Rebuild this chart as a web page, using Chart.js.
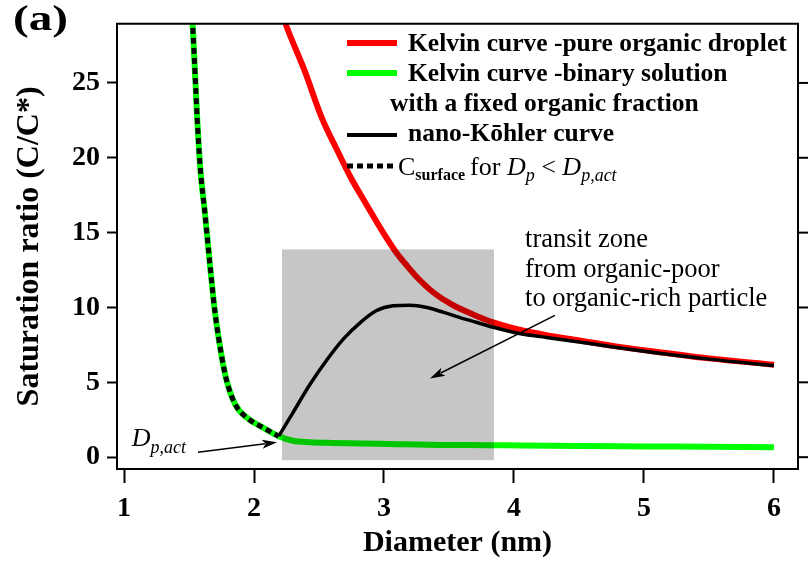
<!DOCTYPE html>
<html>
<head>
<meta charset="utf-8">
<script src="https://cdn.jsdelivr.net/npm/chart.js@4.4.1/dist/chart.umd.min.js"></script>
<style>
  html, body { margin: 0; padding: 0; background: #fff; }
  #wrap { width: 808px; height: 563px; }
</style>
</head>
<body>
<div id="wrap"><canvas id="kohlerChart" width="808" height="563"></canvas></div>
<script>
const xTicks = [1, 2, 3, 4, 5, 6];
const yTicks = [0, 5, 10, 15, 20, 25];

// Kelvin curve, pure organic droplet
const dPure = [2.20, 2.26, 2.39, 2.52, 2.64, 2.74, 2.87, 2.99, 3.10, 3.18, 3.25, 3.38, 3.53, 3.68, 3.84, 4.00, 4.25, 4.50, 4.75, 5.00, 5.50, 6.00];
const sPure = [30.0, 28.55, 25.8, 22.7, 20.5, 18.75, 16.8, 15.05, 13.6, 12.75, 12.05, 11.0, 10.15, 9.55, 9.0, 8.6, 8.15, 7.8, 7.45, 7.15, 6.6, 6.18];

// Kelvin curve, binary solution with fixed organic fraction
const dBinary = [1.52, 1.531, 1.562, 1.585, 1.623, 1.66, 1.70, 1.754, 1.79, 1.854, 1.946, 2.07, 2.19, 2.30, 2.43, 2.60, 2.82, 3.10, 3.43, 3.80, 4.05, 4.50, 5.00, 5.50, 6.00];
const sBinary = [30.0, 28.4, 22.8, 19.5, 16.25, 12.96, 9.67, 6.6, 5.1, 3.55, 2.63, 1.97, 1.40, 1.10, 1.00, 0.95, 0.92, 0.87, 0.82, 0.80, 0.78, 0.75, 0.72, 0.69, 0.66];

// nano-Koehler curve, from D_p,act upward
const dKohler = [2.19, 2.30, 2.43, 2.56, 2.69, 2.82, 2.94, 3.07, 3.20, 3.33, 3.46, 3.58, 3.71, 3.84, 4.05, 4.25, 4.50, 4.75, 5.00, 5.50, 6.00];
const sKohler = [1.40, 2.98, 4.85, 6.49, 7.92, 9.01, 9.78, 10.11, 10.15, 10.0, 9.67, 9.34, 9.01, 8.68, 8.24, 8.0, 7.7, 7.38, 7.08, 6.55, 6.12];

// surface concentration below activation follows the binary curve
const nSurface = 13;
const dSurface = dBinary.slice(0, nSurface);
const sSurface = sBinary.slice(0, nSurface);

// transit zone box and arrows (data units)
const zoneX = [2.215, 3.846];
const zoneY = [-0.2, 13.88];
const actArrow = [[1.569, 0.33], [2.177, 0.99]];
const zoneArrow = [[4.315, 9.47], [3.354, 5.26]];

const SERIF = "'Liberation Serif', 'DejaVu Serif', serif";

function toPoints(xs, ys) {
  return xs.map((v, i) => ({ x: v, y: ys[i] }));
}

function drawArrow(ctx, x0, y0, x1, y1) {
  const ang = Math.atan2(y1 - y0, x1 - x0);
  const len = 15, half = 4.5;
  ctx.beginPath();
  ctx.moveTo(x0, y0);
  ctx.lineTo(x1 - Math.cos(ang) * len * 0.8, y1 - Math.sin(ang) * len * 0.8);
  ctx.stroke();
  ctx.beginPath();
  ctx.moveTo(x1, y1);
  ctx.lineTo(x1 - Math.cos(ang) * len - Math.sin(ang) * half, y1 - Math.sin(ang) * len + Math.cos(ang) * half);
  ctx.lineTo(x1 - Math.cos(ang) * len * 0.75, y1 - Math.sin(ang) * len * 0.75);
  ctx.lineTo(x1 - Math.cos(ang) * len + Math.sin(ang) * half, y1 - Math.sin(ang) * len - Math.cos(ang) * half);
  ctx.closePath();
  ctx.fill();
}

// draws a run of text pieces one after another
function drawRuns(ctx, x, y, runs) {
  ctx.textBaseline = 'alphabetic';
  ctx.textAlign = 'left';
  runs.forEach(r => {
    ctx.font = r.font;
    ctx.fillText(r.text, x, y + (r.dy || 0));
    x += ctx.measureText(r.text).width + (r.gap || 0);
  });
}

const overlay = {
  id: 'overlay',
  afterDatasetsDraw(chart) {
    const { ctx, chartArea: a, scales: { x, y } } = chart;
    ctx.save();
    ctx.beginPath();
    ctx.rect(a.left, a.top, a.right - a.left, a.bottom - a.top);
    ctx.clip();
    ctx.globalCompositeOperation = 'multiply';
    ctx.fillStyle = '#c6c6c6';
    const bx0 = x.getPixelForValue(zoneX[0]), bx1 = x.getPixelForValue(zoneX[1]);
    const by0 = y.getPixelForValue(zoneY[1]), by1 = y.getPixelForValue(zoneY[0]);
    ctx.fillRect(bx0, by0, bx1 - bx0, by1 - by0);
    ctx.restore();

    ctx.save();
    ctx.strokeStyle = '#000';
    ctx.fillStyle = '#000';
    ctx.lineWidth = 1.5;
    [actArrow, zoneArrow].forEach(arr => {
      drawArrow(ctx,
        x.getPixelForValue(arr[0][0]), y.getPixelForValue(arr[0][1]),
        x.getPixelForValue(arr[1][0]), y.getPixelForValue(arr[1][1]));
    });

    // transit zone note
    ctx.font = '26.5px ' + SERIF;
    ctx.textBaseline = 'middle';
    ctx.textAlign = 'left';
    const tx = x.getPixelForValue(4.085);
    ['transit zone', 'from organic-poor', 'to organic-rich particle'].forEach((t, i) => {
      ctx.fillText(t, tx, y.getPixelForValue(14.5) + i * 29.5);
    });

    // D_p,act label
    const lx = x.getPixelForValue(1.06), ly = y.getPixelForValue(0.75);
    drawRuns(ctx, lx, ly, [
      { text: 'D', font: 'italic 26px ' + SERIF },
      { text: 'p,act', font: 'italic 18px ' + SERIF, dy: 7 }
    ]);
    ctx.restore();
  },
  afterDraw(chart) {
    const { ctx, chartArea: a, scales: { y } } = chart;
    ctx.save();
    ctx.strokeStyle = '#000';
    ctx.lineWidth = 2;
    ctx.beginPath();
    ctx.moveTo(a.left - 1, a.top);
    ctx.lineTo(a.right, a.top);
    ctx.lineTo(a.right, a.bottom + 1);
    ctx.stroke();
    // mirrored ticks on the right edge
    yTicks.forEach(v => {
      const py = y.getPixelForValue(v);
      ctx.beginPath();
      ctx.moveTo(a.right, py);
      ctx.lineTo(a.right + 10, py);
      ctx.stroke();
    });

    // legend
    const rows = [
      { y: 43, color: '#ff0000', dash: [], width: 6 },
      { y: 73, color: '#00ff00', dash: [], width: 6 },
      { y: 135, color: '#000', dash: [], width: 4 },
      { y: 166, color: '#000', dash: [6, 4], width: 5 }
    ];
    rows.forEach(r => {
      ctx.strokeStyle = r.color;
      ctx.lineWidth = r.width;
      ctx.setLineDash(r.dash);
      ctx.lineCap = 'butt';
      ctx.beginPath();
      ctx.moveTo(347, r.y);
      ctx.lineTo(397, r.y);
      ctx.stroke();
    });
    ctx.setLineDash([]);
    ctx.fillStyle = '#000';
    ctx.textBaseline = 'middle';
    ctx.textAlign = 'left';
    ctx.font = 'bold 25.5px ' + SERIF;
    ctx.fillText('Kelvin curve -pure organic droplet', 408, 44);
    ctx.fillText('Kelvin curve -binary solution', 408, 74);
    ctx.fillText('with a fixed organic fraction', 390, 104);
    ctx.fillText('nano-K\u014dhler curve', 408, 134);
    drawRuns(ctx, 398, 175, [
      { text: 'C', font: '26px ' + SERIF },
      { text: 'surface', font: 'bold 16px ' + SERIF, dy: 5, gap: 5 },
      { text: 'for ', font: '26px ' + SERIF },
      { text: 'D', font: 'italic 26px ' + SERIF },
      { text: 'p', font: 'italic 18px ' + SERIF, dy: 6 },
      { text: ' < ', font: '26px ' + SERIF },
      { text: 'D', font: 'italic 26px ' + SERIF },
      { text: 'p,act', font: 'italic 18px ' + SERIF, dy: 6 }
    ]);

    // panel letter, drawn a little wide
    ctx.translate(13, 21);
    ctx.scale(1.35, 1);
    ctx.font = 'bold 35px ' + SERIF;
    ctx.textBaseline = 'middle';
    ctx.fillText('(a)', 0, 0);
    ctx.restore();
  }
};

const tickFont = { family: SERIF, size: 28, weight: 'bold' };
const titleFont = { family: SERIF, size: 30, weight: 'bold' };

new Chart(document.getElementById('kohlerChart'), {
  type: 'scatter',
  data: {
    datasets: [
      {
        label: 'C_surface for Dp < Dp,act',
        data: toPoints(dSurface, sSurface),
        showLine: true, borderColor: '#000', borderWidth: 5, borderDash: [6, 4],
        cubicInterpolationMode: 'monotone',
        pointRadius: 0, order: 1, clip: 0
      },
      {
        label: 'nano-Kohler curve',
        data: toPoints(dKohler, sKohler),
        showLine: true, borderColor: '#000', borderWidth: 3.5,
        cubicInterpolationMode: 'monotone',
        pointRadius: 0, order: 2, clip: 0
      },
      {
        label: 'Kelvin curve -binary solution',
        data: toPoints(dBinary, sBinary),
        showLine: true, borderColor: '#00ff00', borderWidth: 6,
        cubicInterpolationMode: 'monotone',
        pointRadius: 0, order: 3, clip: 0
      },
      {
        label: 'Kelvin curve -pure organic droplet',
        data: toPoints(dPure, sPure),
        showLine: true, borderColor: '#ff0000', borderWidth: 6,
        cubicInterpolationMode: 'monotone',
        pointRadius: 0, order: 4, clip: 0
      }
    ]
  },
  options: {
    responsive: false,
    animation: false,
    devicePixelRatio: 1,
    layout: { padding: { top: 17, right: 10, left: 0, bottom: 0 } },
    plugins: { legend: { display: false }, tooltip: { enabled: false } },
    scales: {
      x: {
        type: 'linear',
        min: 0.946,
        max: 6.185,
        afterBuildTicks: s => { s.ticks = xTicks.map(v => ({ value: v })); },
        afterFit: s => { s.height = 94; },
        grid: { drawOnChartArea: false, drawTicks: true, tickLength: 14, tickWidth: 2, tickColor: '#000' },
        border: { display: true, color: '#000', width: 2 },
        ticks: { color: '#000', font: tickFont, padding: 9, maxRotation: 0 },
        title: { display: true, text: 'Diameter (nm)', color: '#000', font: titleFont, padding: { top: 0, bottom: 2 } }
      },
      y: {
        type: 'linear',
        min: -0.79,
        max: 28.95,
        afterBuildTicks: s => { s.ticks = yTicks.map(v => ({ value: v })); },
        afterFit: s => { s.width = 117; },
        grid: { drawOnChartArea: false, drawTicks: true, tickLength: 10, tickWidth: 2, tickColor: '#000' },
        border: { display: true, color: '#000', width: 2 },
        ticks: { color: '#000', font: tickFont, padding: 7 },
        title: { display: true, text: 'Saturation ratio (C/C*)', color: '#000', font: { family: SERIF, size: 32, weight: 'bold' }, padding: { top: 11, bottom: 0 } }
      }
    }
  },
  plugins: [overlay]
});
</script>
</body>
</html>
